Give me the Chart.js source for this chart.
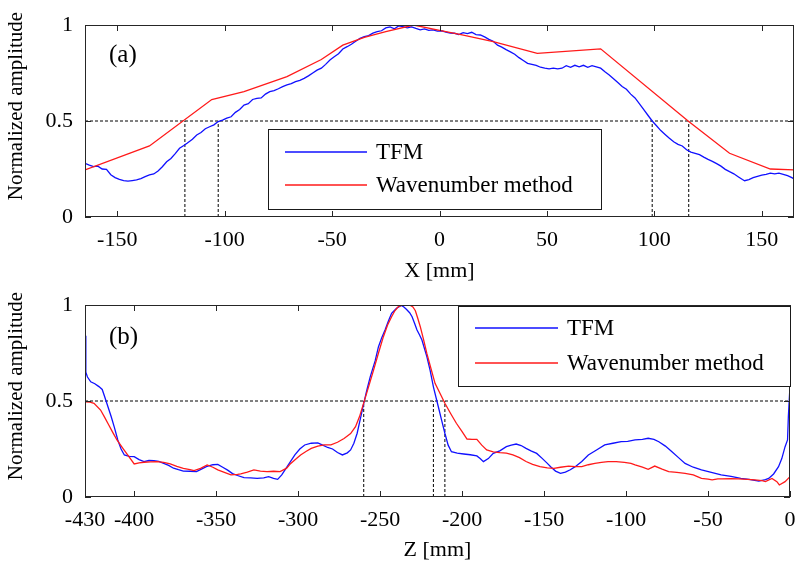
<!DOCTYPE html>
<html>
<head>
<meta charset="utf-8">
<script src="https://cdn.jsdelivr.net/npm/chart.js@4.4.1/dist/chart.umd.min.js"></script>
<style>
  html, body { margin: 0; padding: 0; background: #fff; }
  body { width: 796px; height: 563px; position: relative; overflow: hidden; }
  .panel { position: absolute; left: 0; width: 796px; }
  #boxA { top: 0; height: 285px; }
  #boxB { top: 280px; height: 283px; }
</style>
</head>
<body>
<div class="panel" id="boxA"><canvas id="chartA"></canvas></div>
<div class="panel" id="boxB"><canvas id="chartB"></canvas></div>
<script>
// ===== data =====

// (a) lateral profile, X [mm]
const xTicksA = [-150, -100, -50, 0, 50, 100, 150];
const yTicks = [0, 0.5, 1];

const tfmA = [
  [-165, 0.28], [-163, 0.27], [-161, 0.262], [-159, 0.265], [-157, 0.25], [-155, 0.248],
  [-153, 0.22], [-151, 0.205], [-149, 0.196], [-147, 0.19], [-145, 0.187], [-143, 0.19],
  [-141, 0.193], [-139, 0.2], [-137, 0.21], [-135, 0.219], [-133, 0.224], [-131, 0.24],
  [-129, 0.262], [-127, 0.288], [-125, 0.305], [-123, 0.33], [-121, 0.358], [-119, 0.372],
  [-117.5, 0.384], [-115, 0.405], [-113, 0.427], [-111, 0.44], [-109, 0.46], [-107, 0.47],
  [-105, 0.48], [-103, 0.497], [-101, 0.505], [-99, 0.515], [-97, 0.522], [-95, 0.545],
  [-93, 0.56], [-91, 0.583], [-89, 0.59], [-87, 0.612], [-85, 0.618], [-83, 0.62],
  [-81, 0.64], [-79, 0.653], [-77, 0.658], [-75, 0.668], [-73, 0.679], [-71, 0.688],
  [-69, 0.695], [-67, 0.705], [-65, 0.712], [-63, 0.722], [-61, 0.735], [-59, 0.75],
  [-57, 0.765], [-55, 0.775], [-53, 0.795], [-51, 0.818], [-49, 0.835], [-47, 0.85],
  [-45, 0.875], [-43, 0.887], [-41, 0.9], [-39, 0.915], [-37, 0.93], [-35, 0.939],
  [-33, 0.945], [-31, 0.958], [-29, 0.965], [-27, 0.97], [-25, 0.985], [-23, 0.99],
  [-21, 0.98], [-19, 0.995], [-17, 0.991], [-15, 0.985], [-13, 0.99], [-11, 0.982],
  [-9, 0.975], [-7, 0.98], [-5, 0.972], [-3, 0.975], [-1, 0.968], [1, 0.97],
  [3, 0.963], [5, 0.958], [7, 0.957], [9, 0.95], [11, 0.96], [13, 0.955],
  [15, 0.962], [17, 0.95], [19, 0.948], [21, 0.938], [23, 0.925], [25, 0.915],
  [27, 0.895], [29, 0.885], [31, 0.872], [33, 0.86], [35, 0.848], [37, 0.83],
  [39, 0.815], [41, 0.8], [43, 0.795], [45, 0.79], [47, 0.78], [49, 0.775],
  [51, 0.772], [53, 0.775], [55, 0.772], [57, 0.775], [59, 0.788], [61, 0.78],
  [63, 0.79], [65, 0.782], [67, 0.79], [69, 0.78], [71, 0.788], [73, 0.782],
  [75, 0.775], [77, 0.757], [79, 0.74], [81, 0.72], [83, 0.7], [85, 0.68],
  [87, 0.665], [89, 0.64], [91, 0.62], [93, 0.59], [95, 0.56], [97, 0.53],
  [99, 0.5], [101, 0.475], [103, 0.45], [105, 0.43], [107, 0.41], [109, 0.392],
  [111, 0.378], [113, 0.37], [115, 0.35], [117, 0.338], [119, 0.332], [121, 0.325],
  [123, 0.312], [125, 0.3], [127, 0.29], [129, 0.278], [131, 0.265], [133, 0.248],
  [135, 0.236], [137, 0.225], [139, 0.21], [141, 0.195], [142, 0.189], [144, 0.195],
  [146, 0.205], [148, 0.212], [150, 0.218], [152, 0.222], [154, 0.228], [156, 0.225],
  [158, 0.228], [160, 0.222], [162, 0.215], [164, 0.205], [165, 0.198]
];

const waveA = [
  [-165, 0.245], [-135, 0.37], [-106, 0.612], [-91, 0.653], [-71, 0.731], [-55, 0.82],
  [-45, 0.895], [-35, 0.935], [-25, 0.965], [-12, 1.0], [0, 0.972], [10, 0.95],
  [25, 0.913], [45.5, 0.852], [75, 0.876], [116, 0.497], [135, 0.332], [154, 0.25],
  [165, 0.245]
];

// -6 dB crossings marked in (a)
const cutsA = [-118.5, -103, 99, 116];

// (b) depth profile, Z [mm]
const xTicksB = [-430, -400, -350, -300, -250, -200, -150, -100, -50, 0];

const tfmB = [
  [-430, 0.84], [-429.5, 0.65], [-428.5, 0.625], [-426.5, 0.6], [-424, 0.59], [-421.5, 0.575],
  [-419.5, 0.56], [-418, 0.522], [-416, 0.47], [-414, 0.418], [-412, 0.36], [-410, 0.297],
  [-408, 0.25], [-406, 0.219], [-403, 0.212], [-400, 0.21], [-397, 0.195], [-394, 0.184],
  [-391, 0.19], [-388, 0.189], [-385, 0.185], [-382, 0.175], [-379, 0.165], [-376, 0.15],
  [-373, 0.142], [-370, 0.135], [-366, 0.134], [-362, 0.132], [-359, 0.145], [-356, 0.158],
  [-352, 0.168], [-349, 0.17], [-346, 0.155], [-343, 0.14], [-340, 0.122], [-337, 0.112],
  [-333, 0.101], [-329, 0.1], [-325, 0.097], [-321, 0.1], [-318, 0.106], [-315, 0.097],
  [-312.5, 0.092], [-310, 0.115], [-308, 0.141], [-305, 0.18], [-302, 0.219], [-299, 0.25],
  [-296, 0.271], [-292, 0.28], [-288, 0.282], [-285, 0.27], [-282, 0.258], [-279, 0.25],
  [-276, 0.232], [-273, 0.219], [-270, 0.23], [-268, 0.245], [-266, 0.28], [-264, 0.332],
  [-262, 0.41], [-260, 0.488], [-258, 0.56], [-256, 0.627], [-253, 0.71], [-251, 0.783],
  [-249, 0.83], [-247, 0.87], [-245, 0.915], [-243, 0.957], [-240, 0.983], [-237, 0.998],
  [-235.5, 0.99], [-234, 0.978], [-232, 0.96], [-230.5, 0.939], [-229, 0.905], [-227.5, 0.87],
  [-226, 0.845], [-224.5, 0.818], [-223, 0.775], [-221.5, 0.731], [-219.5, 0.66], [-217.5, 0.574],
  [-214.5, 0.47], [-212.5, 0.4], [-210.5, 0.332], [-208.5, 0.27], [-206.5, 0.236], [-203, 0.228],
  [-199, 0.224], [-195, 0.22], [-191, 0.214], [-189, 0.2], [-187, 0.184], [-184, 0.2],
  [-181, 0.227], [-177, 0.24], [-173, 0.262], [-170, 0.27], [-167, 0.276], [-164, 0.268],
  [-161, 0.253], [-158, 0.24], [-154.5, 0.227], [-151, 0.2], [-148, 0.175], [-146, 0.158],
  [-143, 0.135], [-140, 0.123], [-137, 0.13], [-134, 0.142], [-131, 0.158], [-127, 0.185],
  [-123, 0.219], [-118, 0.245], [-113, 0.271], [-108, 0.28], [-103, 0.288], [-99, 0.29],
  [-94.5, 0.297], [-90, 0.3], [-86.5, 0.306], [-83, 0.3], [-80, 0.288], [-76, 0.265],
  [-72, 0.236], [-68, 0.205], [-64, 0.175], [-59, 0.155], [-54, 0.141], [-48, 0.128],
  [-42, 0.115], [-36, 0.107], [-30, 0.097], [-25, 0.092], [-19, 0.083], [-15, 0.09],
  [-13, 0.097], [-10, 0.12], [-7, 0.158], [-5, 0.2], [-3, 0.262], [-1.5, 0.297],
  [-1, 0.418], [-0.5, 0.5], [0, 0.575]
];

const waveB = [
  [-430, 0.496], [-427, 0.494], [-424.5, 0.488], [-420.5, 0.453], [-418, 0.415], [-415.5, 0.375],
  [-413, 0.335], [-410.5, 0.297], [-407, 0.255], [-404, 0.219], [-400, 0.172], [-397, 0.178],
  [-394, 0.181], [-390, 0.183], [-386, 0.184], [-382, 0.18], [-378, 0.172], [-374, 0.16],
  [-370, 0.149], [-366, 0.142], [-363.5, 0.137], [-359.5, 0.149], [-355.5, 0.167], [-352, 0.155],
  [-349, 0.141], [-345, 0.128], [-341, 0.115], [-337, 0.118], [-335, 0.12], [-331, 0.13],
  [-327, 0.141], [-323, 0.135], [-319, 0.132], [-315, 0.134], [-311, 0.132], [-307, 0.15],
  [-304.5, 0.175], [-301, 0.2], [-298.5, 0.219], [-295, 0.238], [-292, 0.253], [-288, 0.265],
  [-284, 0.271], [-280, 0.272], [-276, 0.285], [-272, 0.305], [-268, 0.33], [-265, 0.366],
  [-262.5, 0.42], [-260, 0.49], [-257, 0.575], [-254, 0.661], [-251, 0.75], [-248, 0.835],
  [-245.5, 0.895], [-243, 0.939], [-241, 0.97], [-239, 0.991], [-236, 1.0], [-232, 1.0],
  [-230, 0.99], [-228.5, 0.97], [-227, 0.93], [-225.5, 0.887], [-223.5, 0.82], [-221.5, 0.748],
  [-219, 0.67], [-216.5, 0.592], [-213.5, 0.54], [-210.5, 0.488], [-207, 0.435], [-203.5, 0.384],
  [-200, 0.34], [-197, 0.302], [-194, 0.3], [-191, 0.3], [-188, 0.27], [-185, 0.245],
  [-181, 0.235], [-177, 0.231], [-173, 0.228], [-169, 0.219], [-165, 0.205], [-161, 0.185],
  [-157, 0.17], [-152.5, 0.158], [-148, 0.152], [-144, 0.149], [-140, 0.155], [-135, 0.161],
  [-131, 0.158], [-127, 0.158], [-123, 0.168], [-119, 0.175], [-115, 0.18], [-111, 0.184],
  [-106, 0.184], [-101, 0.18], [-97, 0.175], [-94.5, 0.167], [-90, 0.155], [-86.5, 0.144],
  [-82.5, 0.161], [-78, 0.145], [-74, 0.132], [-69, 0.128], [-64, 0.123], [-59, 0.115],
  [-54, 0.097], [-50, 0.093], [-47.5, 0.089], [-44, 0.094], [-41.5, 0.094], [-36, 0.095],
  [-31.5, 0.094], [-26, 0.092], [-21.5, 0.089], [-17, 0.085], [-15, 0.08], [-11, 0.097],
  [-8, 0.08], [-6.5, 0.0625], [-3, 0.08], [0, 0.106]
];

const cutsB = [-260, -217.5, -210.5];

const HALF = 0.5;
const seriesNames = ['TFM', 'Wavenumber method'];
const yTitle = 'Normalized amplitude';

// ===== helpers =====

const FONT = "'Liberation Serif', 'Times New Roman', serif";
Chart.defaults.font.family = FONT;
Chart.defaults.font.size = 22;
Chart.defaults.color = '#000';

const toXY = arr => arr.map(p => ({ x: p[0], y: p[1] }));

function guideData(xmin, xmax, cuts) {
  // horizontal -6 dB line plus vertical drops, gaps split the segments
  const pts = [{ x: xmin, y: HALF }, { x: xmax, y: HALF }, { x: xmax, y: null }];
  cuts.forEach(c => {
    pts.push({ x: c, y: 0 }, { x: c, y: HALF }, { x: c, y: null });
  });
  return pts;
}

// MATLAB-like box, inward ticks, boxed legend, y label and panel tag
const figureBox = {
  id: 'figureBox',
  afterDatasetsDraw(chart, args, opts) {
    const { ctx, chartArea: a, scales: { x, y } } = chart;
    ctx.save();
    ctx.strokeStyle = '#262626';
    ctx.lineWidth = 1;
    ctx.strokeRect(a.left + 0.5, a.top + 0.5, a.width - 1, a.height - 1);

    const len = 6;
    ctx.beginPath();
    x.ticks.forEach(t => {
      const px = Math.round(x.getPixelForValue(t.value)) + 0.5;
      ctx.moveTo(px, a.bottom); ctx.lineTo(px, a.bottom - len);
      ctx.moveTo(px, a.top); ctx.lineTo(px, a.top + len);
    });
    y.ticks.forEach(t => {
      const py = Math.round(y.getPixelForValue(t.value)) + 0.5;
      ctx.moveTo(a.left, py); ctx.lineTo(a.left + len, py);
      ctx.moveTo(a.right, py); ctx.lineTo(a.right - len, py);
    });
    ctx.stroke();

    // legend
    const lg = opts.legend;
    ctx.fillStyle = '#fff';
    ctx.fillRect(lg.x, lg.y, lg.w, lg.h);
    ctx.strokeStyle = '#1a1a1a';
    ctx.strokeRect(lg.x + 0.5, lg.y + 0.5, lg.w, lg.h);
    ctx.font = '23px ' + FONT;
    ctx.textBaseline = 'middle';
    ctx.textAlign = 'left';
    chart.data.datasets.filter(d => seriesNames.includes(d.label)).forEach((d, i) => {
      const ry = lg.rows[i];
      ctx.strokeStyle = d.borderColor;
      ctx.lineWidth = 1.3;
      ctx.beginPath();
      ctx.moveTo(lg.lineX0, ry); ctx.lineTo(lg.lineX1, ry);
      ctx.stroke();
      ctx.fillStyle = '#000';
      ctx.fillText(d.label, lg.textX, ry + 1);
    });

    // panel tag
    ctx.font = '25px ' + FONT;
    ctx.fillStyle = '#000';
    ctx.fillText(opts.tag, opts.tagX, opts.tagY);

    // y label, sits a bit above the axis centre as in the source figure
    ctx.font = '21px ' + FONT;
    ctx.textAlign = 'center';
    ctx.translate(16, (a.top + a.bottom) / 2 - 15);
    ctx.rotate(-Math.PI / 2);
    ctx.fillText(yTitle, 0, 0);
    ctx.restore();
  }
};

function makeChart(id, cfg) {
  return new Chart(document.getElementById(id), {
    type: 'line',
    data: {
      datasets: [
        {
          label: 'guide', data: guideData(cfg.xmin, cfg.xmax, cfg.cuts),
          borderColor: '#000', borderWidth: 1, borderDash: [3, 2],
          pointRadius: 0, spanGaps: false, order: 3
        },
        {
          label: seriesNames[0], data: toXY(cfg.tfm),
          borderColor: '#1010ff', borderWidth: 1.3, pointRadius: 0, order: 2
        },
        {
          label: seriesNames[1], data: toXY(cfg.wave),
          borderColor: '#ff1a1a', borderWidth: 1.3, pointRadius: 0, order: 1
        }
      ]
    },
    options: {
      responsive: true,
      maintainAspectRatio: false,
      animation: false,
      layout: { padding: { top: 25, right: cfg.padRight, left: 0, bottom: 0 } },
      elements: { line: { tension: 0 } },
      plugins: {
        legend: { display: false },
        tooltip: { enabled: false },
        figureBox: { legend: cfg.legend, tag: cfg.tag, tagX: 109, tagY: cfg.tagY }
      },
      scales: {
        x: {
          type: 'linear', min: cfg.xmin, max: cfg.xmax,
          grid: { display: false, drawTicks: false },
          border: { display: false },
          ticks: { padding: 10, font: { size: 22 }, color: '#000', callback: v => String(v) },
          afterBuildTicks: s => { s.ticks = cfg.xTicks.map(v => ({ value: v })); },
          afterFit: s => { s.height = cfg.xAxisH; s.paddingLeft = 0; s.paddingRight = 0; },
          title: {
            display: true, text: cfg.xTitle, color: '#000',
            font: { size: 22 }, padding: { top: 0, bottom: cfg.titlePad }
          }
        },
        y: {
          type: 'linear', min: 0, max: 1,
          grid: { display: false, drawTicks: false },
          border: { display: false },
          ticks: { padding: 12, font: { size: 22 }, color: '#000', callback: v => String(v) },
          afterBuildTicks: s => { s.ticks = yTicks.map(v => ({ value: v })); },
          afterFit: s => { s.width = 85; s.paddingTop = 0; s.paddingBottom = 0; }
        }
      }
    },
    plugins: [figureBox]
  });
}

makeChart('chartA', {
  xmin: -165, xmax: 165, xTicks: xTicksA, cuts: cutsA,
  tfm: tfmA, wave: waveA, xTitle: 'X [mm]',
  padRight: 2, xAxisH: 68, titlePad: 1,
  tag: '(a)', tagY: 55,
  legend: { x: 268, y: 129, w: 333, h: 80, lineX0: 285, lineX1: 367, textX: 376, rows: [152, 185] }
});

makeChart('chartB', {
  xmin: -430, xmax: 0, xTicks: xTicksB, cuts: cutsB,
  tfm: tfmB, wave: waveB, xTitle: 'Z [mm]',
  padRight: 6, xAxisH: 66, titlePad: 0,
  tag: '(b)', tagY: 57,
  legend: { x: 458, y: 26, w: 332, h: 80, lineX0: 475, lineX1: 558, textX: 567, rows: [48, 83] }
});
</script>
</body>
</html>
